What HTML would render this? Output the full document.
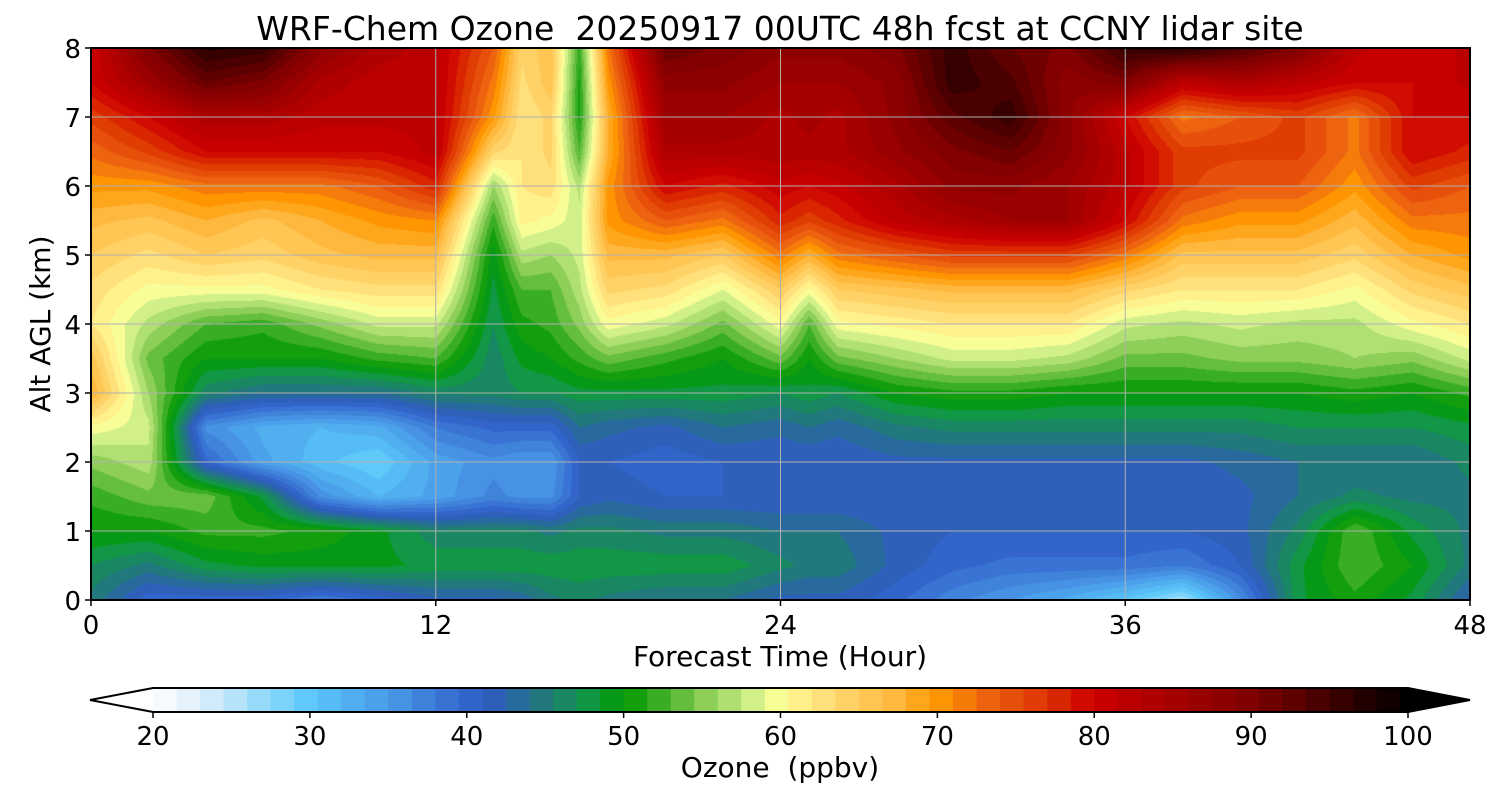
<!DOCTYPE html>
<html><head><meta charset="utf-8">
<style>
html,body{margin:0;padding:0;background:#fff;width:1500px;height:800px;overflow:hidden;font-family:"DejaVu Sans","Liberation Sans",sans-serif;}
#wrap{position:relative;width:1500px;height:800px;}
canvas{position:absolute;left:0;top:0;}
svg{position:absolute;left:0;top:0;}
text{font-family:"DejaVu Sans","Liberation Sans",sans-serif;fill:#000;}
</style></head>
<body>
<div id="wrap">
<canvas id="cv" width="1500" height="800"></canvas>
<svg id="sv" width="1500" height="800"></svg>
</div>
<script>
const hours=[0,2,4,6,8,10,12,14,15,16,17,18,20,22,24,25,26,28,30,32,34,36,38,40,42,44,46,48];
const alts=[0,0.5,1,1.5,2,2.5,3,3.5,4,4.5,5,5.5,6,6.5,7,7.5,8];
const ozone=[
[45,47,50,52,55,60,68,66,62,63,65,67,70,73,76,80,80],
[40,45,50,54,57,58,56,54,57,60,63,66,70,76,80,86,90],
[40,48,52,54,40,36,46,50,53,60,65,68,72,80,84,92,97],
[40,49,52,48,34,33,44,50,52,60,64,66,72,80,84,90,96],
[38,49,51,36,31,32,44,50,55,62,66,68,72,80,82,84,88],
[40,49,49,32,29,33,44,52,58,63,67,70,74,80,82,82,84],
[42,48,46,34,34,38,46,53,58,63,67,71,78,82,82,82,82],
[42,48,46,37,36,40,46,46,47,48,49,52,56,64,70,72,74],
[43,48,46,36,35,40,47,49,51,53,57,61,62,62,62,63,64],
[45,48,45,36,35,40,47,50,52,53,56,60,63,64,64,66,66],
[46,48,46,41,41,44,48,52,55,57,58,58,57,53,51,51,52],
[45,48,46,42,41,43,48,54,60,64,67,70,70,68,68,70,72],
[44,48,45,41,40,42,48,52,58,63,67,74,80,84,86,88,92],
[44,48,45,41,41,44,48,50,54,59,65,72,78,84,86,88,90],
[42,46,44,41,41,43,47,54,60,65,72,78,81,84,84,86,88],
[42,45,44,41,41,44,48,50,53,60,68,76,80,84,85,86,88],
[42,45,44,41,41,43,47,54,60,65,72,78,81,84,84,86,88],
[40,42,42,41,42,45,50,56,61,66,74,82,84,87,88,88,90],
[37,40,41,41,42,46,51,58,62,67,76,84,88,90,93,96,96],
[35,39,41,41,42,46,51,58,62,67,76,86,88,92,96,94,92],
[33,39,41,41,42,46,50,57,62,67,76,86,86,88,88,88,90],
[30,39,41,41,42,46,50,54,58,64,72,80,82,82,80,90,96],
[26,38,41,41,42,46,50,54,57,62,66,72,76,76,72,82,97],
[36,41,42,42,43,46,50,55,58,62,66,70,74,76,74,84,94],
[48,48,46,44,44,47,50,55,57,62,66,70,74,76,76,82,90],
[51,53,53,46,44,47,51,56,57,60,64,67,70,72,72,80,82],
[48,50,48,45,44,47,50,55,60,64,68,72,76,80,80,80,80],
[42,45,45,45,46,48,52,58,62,66,70,72,74,78,80,82,82]
];
const xTicks=[0,12,24,36,48];
const yTicks=[0,1,2,3,4,5,6,7,8];
const cbTicks=[20,30,40,50,60,70,80,90,100];
const cmapVals=[20,23,30,35,40,42,45,48,50,52,55,58,60,63,67,70,73,77,80,90,95,100];
const cmapCols=['#ffffff','#dff0fb','#5ac8fa','#4a9ae8','#3366cc','#2d5fb8','#207a78','#109a40','#009900','#33aa22','#88cc55','#ccee88','#ffff99','#ffdd77','#ffbb44','#ff9900','#ee6611','#dd3300','#cc0000','#800000','#400000','#000000'];

const PL=91,PR=1470,PT=48,PB=600;
const xs=h=>PL+(h-0)/(48-0)*(PR-PL);
const ys=a=>PB-(a-0)/(8-0)*(PB-PT);
const CBL=153,CBR=1408,CBT=688,CBB=712;
const cbx=v=>CBL+(v-20)/(100-20)*(CBR-CBL);

function hex(c){return [parseInt(c.slice(1,3),16),parseInt(c.slice(3,5),16),parseInt(c.slice(5,7),16)];}
const cmapRGB=cmapCols.map(hex);
const STEP=1.5;
function colorOf(v){
  v=Math.max(20,Math.min(100,v));
  v=20+Math.floor((v-20)/STEP)*STEP+STEP/2;
  for(let i=0;i<cmapVals.length-1;i++){
    if(v<=cmapVals[i+1]){
      const t=(v-cmapVals[i])/(cmapVals[i+1]-cmapVals[i]);
      const a=cmapRGB[i],b=cmapRGB[i+1];
      return [a[0]+(b[0]-a[0])*t,a[1]+(b[1]-a[1])*t,a[2]+(b[2]-a[2])*t];
    }
  }
  return cmapRGB[cmapRGB.length-1];
}
function seg(arr,v){
  for(let i=0;i<arr.length-1;i++){if(v<=arr[i+1])return [i,(v-arr[i])/(arr[i+1]-arr[i])];}
  return [arr.length-2,1];
}
const cv=document.getElementById('cv');const ctx=cv.getContext('2d');
const W=PR-PL,H=PB-PT;
const img=ctx.createImageData(W,H);
for(let px=0;px<W;px++){
  const h=(px+0.5)/W*48;const [i,tx]=seg(hours,h);
  for(let py=0;py<H;py++){
    const a=8-(py+0.5)/H*8;const [j,ty]=seg(alts,a);
    const v=(ozone[i][j]*(1-tx)+ozone[i+1][j]*tx)*(1-ty)+(ozone[i][j+1]*(1-tx)+ozone[i+1][j+1]*tx)*ty;
    const c=colorOf(v);const k=(py*W+px)*4;
    img.data[k]=c[0];img.data[k+1]=c[1];img.data[k+2]=c[2];img.data[k+3]=255;
  }
}
ctx.putImageData(img,PL,PT);

const sv=document.getElementById('sv');const NS='http://www.w3.org/2000/svg';
function mk(tag,attrs,parent){const e=document.createElementNS(NS,tag);for(const k in attrs)e.setAttribute(k,attrs[k]);(parent||sv).appendChild(e);return e;}
function txt(s,attrs){const e=mk('text',attrs);e.textContent=s;return e;}

xTicks.forEach(t=>{
  const g=mk('line',{x1:xs(t),x2:xs(t),y1:PT,y2:PB,stroke:'#b0b0b0','stroke-width':1});
  
  
  const tk=mk('line',{x1:xs(t),x2:xs(t),y1:PB,y2:PB+6,stroke:'#000','stroke-width':1.5});
  
  
  const l=txt(String(t),{x:xs(t),y:PB+34,'font-size':26,'text-anchor':'middle'});
  
  
});
yTicks.forEach(t=>{
  const g=mk('line',{x1:PL,x2:PR,y1:ys(t),y2:ys(t),stroke:'#b0b0b0','stroke-width':1});
  
  
  const tk=mk('line',{x1:PL-6,x2:PL,y1:ys(t),y2:ys(t),stroke:'#000','stroke-width':1.5});
  
  
  const l=txt(String(t),{x:PL-10,y:ys(t)+10,'font-size':26,'text-anchor':'end'});
  
  
});
const fr=mk('rect',{x:PL,y:PT,width:W,height:H,fill:'none',stroke:'#000','stroke-width':2});


const ti=txt('WRF-Chem Ozone  20250917 00UTC 48h fcst at CCNY lidar site',{x:780,y:40,'font-size':33,'text-anchor':'middle'});


ti.style.whiteSpace='pre';
const xl=txt('Forecast Time (Hour)',{x:780,y:666,'font-size':28,'text-anchor':'middle'});


const yl=txt('Alt AGL (km)',{x:0,y:0,'font-size':28,'text-anchor':'middle',transform:'translate(50,324) rotate(-90)'});



const nb=Math.round(80/STEP);
for(let b=0;b<nb+1;b++){
  const v0=20+b*STEP;if(v0>=100)break;const v1=Math.min(100,v0+STEP);
  const c=colorOf(v0+0.01);
  const r=mk('rect',{x:cbx(v0),y:CBT,width:cbx(v1)-cbx(v0)+0.6,height:CBB-CBT,fill:`rgb(${c[0]|0},${c[1]|0},${c[2]|0})`});
  
  
}
const lt=mk('polygon',{points:`${CBL},${CBT} 90,${(CBT+CBB)/2} ${CBL},${CBB}`,fill:'#fff',stroke:'none'});


const rt=mk('polygon',{points:`${CBR},${CBT} 1470,${(CBT+CBB)/2} ${CBR},${CBB}`,fill:'#000'});


const ol=mk('polygon',{points:`${CBL},${CBT} ${CBR},${CBT} 1470,${(CBT+CBB)/2} ${CBR},${CBB} ${CBL},${CBB} 90,${(CBT+CBB)/2}`,fill:'none',stroke:'#000','stroke-width':2});


cbTicks.forEach(t=>{
  const tk=mk('line',{x1:cbx(t),x2:cbx(t),y1:CBB,y2:CBB+6,stroke:'#000','stroke-width':1.5});
  
  
  const l=txt(String(t),{x:cbx(t),y:745,'font-size':26,'text-anchor':'middle'});
  
  
});
const cl=txt('Ozone  (ppbv)',{x:780,y:777,'font-size':28,'text-anchor':'middle'});


cl.style.whiteSpace='pre';
</script>
</body></html>
